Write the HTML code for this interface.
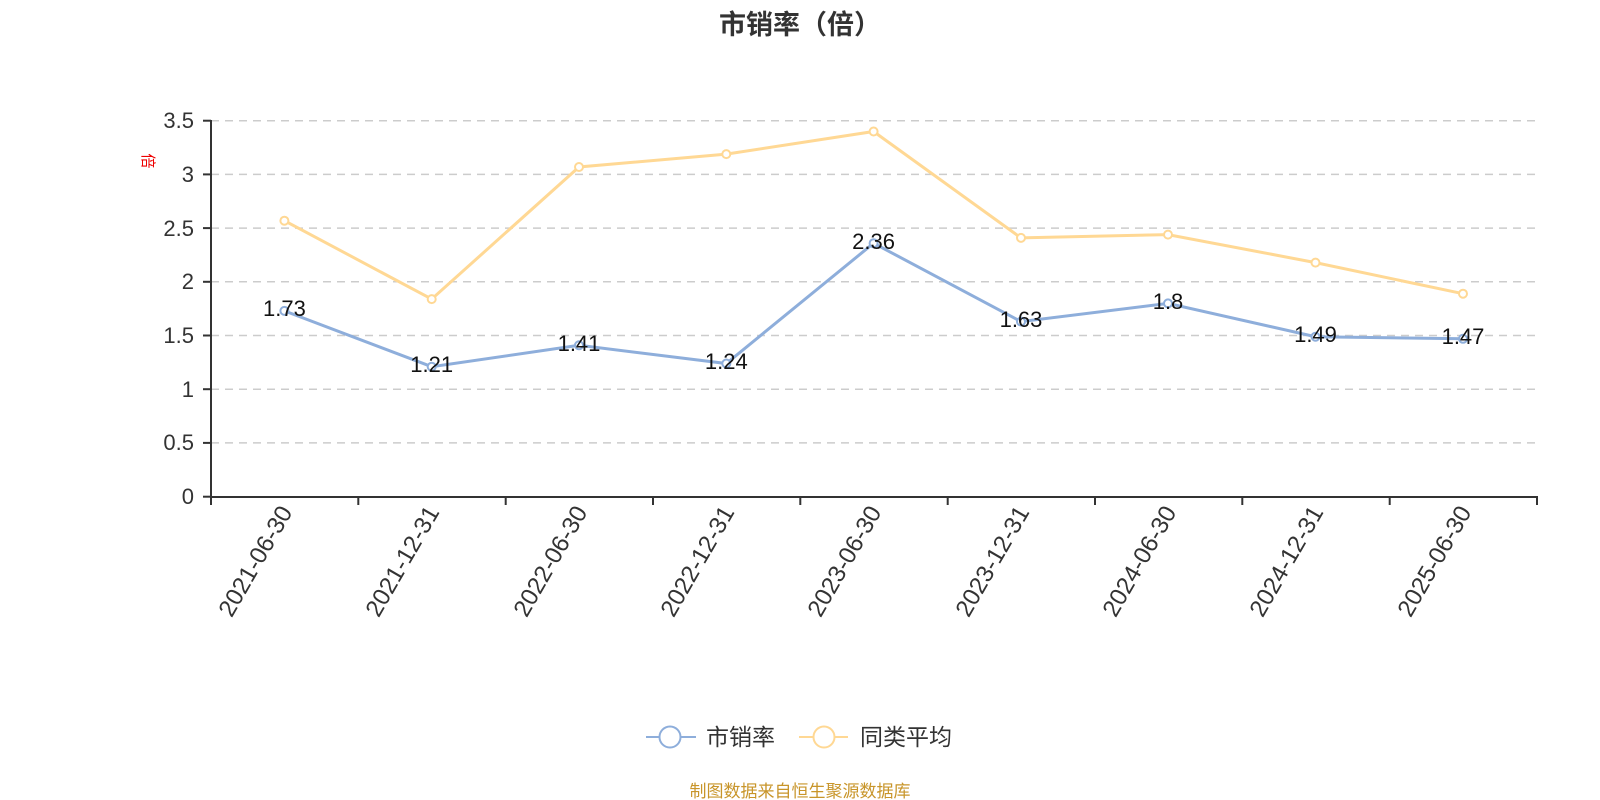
<!DOCTYPE html>
<html><head><meta charset="utf-8"><style>
body{margin:0;background:#fff;}
svg{display:block;font-family:"Liberation Sans","Noto Sans CJK SC",sans-serif;}
</style></head><body>
<svg width="1600" height="800" viewBox="0 0 1600 800" xmlns="http://www.w3.org/2000/svg">
<text x="800" y="34" text-anchor="middle" font-size="27" font-weight="bold" fill="#333">市销率（倍）</text>
<g stroke="#ccc" stroke-width="1.5" stroke-dasharray="8,6">
<line x1="211" x2="1537" y1="120.7" y2="120.7"/>
<line x1="211" x2="1537" y1="174.4" y2="174.4"/>
<line x1="211" x2="1537" y1="228.1" y2="228.1"/>
<line x1="211" x2="1537" y1="281.8" y2="281.8"/>
<line x1="211" x2="1537" y1="335.5" y2="335.5"/>
<line x1="211" x2="1537" y1="389.2" y2="389.2"/>
<line x1="211" x2="1537" y1="442.9" y2="442.9"/>
</g>
<g stroke="#333" stroke-width="2">
<line x1="211" x2="211" y1="120" y2="497"/>
<line x1="210" x2="1538" y1="497" y2="497"/>
<line x1="203" x2="211" y1="120.7" y2="120.7"/>
<line x1="203" x2="211" y1="174.4" y2="174.4"/>
<line x1="203" x2="211" y1="228.1" y2="228.1"/>
<line x1="203" x2="211" y1="281.8" y2="281.8"/>
<line x1="203" x2="211" y1="335.5" y2="335.5"/>
<line x1="203" x2="211" y1="389.2" y2="389.2"/>
<line x1="203" x2="211" y1="442.9" y2="442.9"/>
<line x1="203" x2="211" y1="496.7" y2="496.7"/>
<line x1="211" x2="211" y1="497" y2="505"/>
<line x1="358.3" x2="358.3" y1="497" y2="505"/>
<line x1="505.7" x2="505.7" y1="497" y2="505"/>
<line x1="653" x2="653" y1="497" y2="505"/>
<line x1="800.3" x2="800.3" y1="497" y2="505"/>
<line x1="947.7" x2="947.7" y1="497" y2="505"/>
<line x1="1095" x2="1095" y1="497" y2="505"/>
<line x1="1242.3" x2="1242.3" y1="497" y2="505"/>
<line x1="1389.7" x2="1389.7" y1="497" y2="505"/>
<line x1="1537" x2="1537" y1="497" y2="505"/>
</g>
<g font-size="22" fill="#333" text-anchor="end">
<text x="194" y="128">3.5</text>
<text x="194" y="182">3</text>
<text x="194" y="236">2.5</text>
<text x="194" y="289">2</text>
<text x="194" y="343">1.5</text>
<text x="194" y="397">1</text>
<text x="194" y="450">0.5</text>
<text x="194" y="504">0</text>
</g>
<text transform="translate(143,161) rotate(90)" font-size="15" fill="#e00" text-anchor="middle">倍</text>
<g font-size="24" fill="#333" text-anchor="end">
<text transform="translate(293,512) rotate(-60)">2021-06-30</text>
<text transform="translate(440,512) rotate(-60)">2021-12-31</text>
<text transform="translate(588,512) rotate(-60)">2022-06-30</text>
<text transform="translate(735,512) rotate(-60)">2022-12-31</text>
<text transform="translate(882,512) rotate(-60)">2023-06-30</text>
<text transform="translate(1030,512) rotate(-60)">2023-12-31</text>
<text transform="translate(1177,512) rotate(-60)">2024-06-30</text>
<text transform="translate(1324,512) rotate(-60)">2024-12-31</text>
<text transform="translate(1472,512) rotate(-60)">2025-06-30</text>
</g>
<polyline fill="none" stroke="#ffd894" stroke-width="3" points="284.4,220.7 431.7,299.1 579,167 726.3,154.1 873.6,131.5 1021,237.9 1168,234.6 1315.5,262.6 1463,293.7"/>
<g fill="#fff" stroke="#ffd894" stroke-width="2">
<circle cx="284.4" cy="220.7" r="4"/><circle cx="431.7" cy="299.1" r="4"/><circle cx="579" cy="167" r="4"/><circle cx="726.3" cy="154.1" r="4"/><circle cx="873.6" cy="131.5" r="4"/><circle cx="1021" cy="237.9" r="4"/><circle cx="1168" cy="234.6" r="4"/><circle cx="1315.5" cy="262.6" r="4"/><circle cx="1463" cy="293.7" r="4"/>
</g>
<polyline fill="none" stroke="#8eaedb" stroke-width="3" points="284.4,310.9 431.7,366.7 579,345.3 726.3,363.5 873.6,243.2 1021,321.6 1168,303.4 1315.5,336.7 1463,338.8"/>
<g fill="#fff" stroke="#8eaedb" stroke-width="2">
<circle cx="284.4" cy="310.9" r="4"/><circle cx="431.7" cy="366.7" r="4"/><circle cx="579" cy="345.3" r="4"/><circle cx="726.3" cy="363.5" r="4"/><circle cx="873.6" cy="243.2" r="4"/><circle cx="1021" cy="321.6" r="4"/><circle cx="1168" cy="303.4" r="4"/><circle cx="1315.5" cy="336.7" r="4"/><circle cx="1463" cy="338.8" r="4"/>
</g>
<g font-size="22" fill="#111" text-anchor="middle">
<text x="284.4" y="316">1.73</text>
<text x="431.7" y="372">1.21</text>
<text x="579" y="351">1.41</text>
<text x="726.3" y="369">1.24</text>
<text x="873.6" y="249">2.36</text>
<text x="1021" y="327">1.63</text>
<text x="1168" y="309">1.8</text>
<text x="1315.5" y="342">1.49</text>
<text x="1463" y="344">1.47</text>
</g>
<line x1="646" x2="696" y1="737" y2="737" stroke="#8eaedb" stroke-width="2"/>
<circle cx="670" cy="737" r="10.5" fill="#fff" stroke="#8eaedb" stroke-width="2"/>
<text x="706" y="745" font-size="23" fill="#333">市销率</text>
<line x1="799" x2="848" y1="737" y2="737" stroke="#ffd894" stroke-width="2"/>
<circle cx="824" cy="737" r="10.5" fill="#fff" stroke="#ffd894" stroke-width="2"/>
<text x="860" y="745" font-size="23" fill="#333">同类平均</text>
<text x="800" y="797" text-anchor="middle" font-size="17" fill="#c8952a">制图数据来自恒生聚源数据库</text>
</svg>
</body></html>
